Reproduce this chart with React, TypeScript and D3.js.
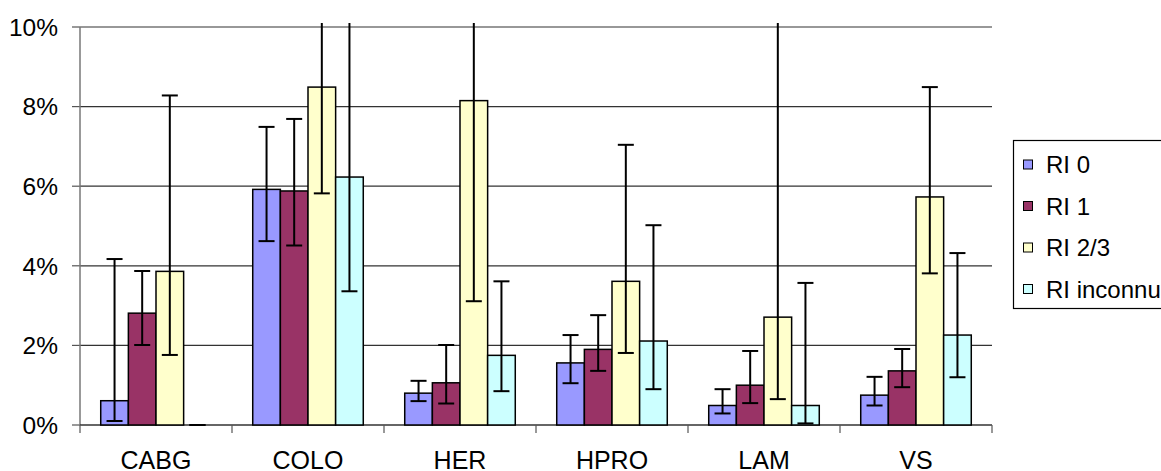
import React from "react";
import * as d3 from "d3";

const categories = ["CABG", "COLO", "HER", "HPRO", "LAM", "VS"];
const seriesNames = ["RI 0", "RI 1", "RI 2/3", "RI inconnu"];
const seriesColors = ["#9999FF", "#993366", "#FFFFCC", "#CCFFFF"];

const ri0 = [0.61, 5.92, 0.8, 1.56, 0.49, 0.75];
const ri0Lo = [0.1, 4.62, 0.6, 1.05, 0.29, 0.49];
const ri0Hi = [4.17, 7.49, 1.11, 2.26, 0.9, 1.21];

const ri1 = [2.81, 5.88, 1.06, 1.9, 1.0, 1.36];
const ri1Lo = [2.01, 4.51, 0.54, 1.36, 0.55, 0.95];
const ri1Hi = [3.87, 7.69, 2.01, 2.76, 1.86, 1.91];

const ri23 = [3.86, 8.49, 8.15, 3.61, 2.71, 5.73];
const ri23Lo = [1.76, 5.82, 3.11, 1.81, 0.65, 3.81];
const ri23Hi = [8.28, 12, 12, 7.04, 12, 8.49];

const riU = [0, 6.23, 1.75, 2.11, 0.49, 2.26];
const riULo = [0, 3.36, 0.85, 0.9, 0.04, 1.2];
const riUHi = [0, 12, 3.61, 5.02, 3.57, 4.32];

const yTicks = [0, 2, 4, 6, 8, 10];

const values = [ri0, ri1, ri23, riU];
const lows = [ri0Lo, ri1Lo, ri23Lo, riULo];
const highs = [ri0Hi, ri1Hi, ri23Hi, riUHi];

const W = 1161;
const H = 471;
const left = 80;
const right = 992;
const font = "Arial, 'Liberation Sans', sans-serif";

export default function App() {
  const x = d3.scaleBand<string>().domain(categories).range([left, right]).padding(0);
  const y = d3.scaleLinear().domain([0, 10]).range([425, 27]);
  const bw = x.bandwidth() / 5.5;
  const xs = d3
    .scaleBand<string>()
    .domain(seriesNames)
    .range([0.75 * bw, 4.75 * bw])
    .padding(0);
  const cap = 8;
  const ticksX = [...categories.map((c) => x(c) as number), right];

  return (
    <svg
      width={W}
      height={H}
      style={{ position: "absolute", left: 0, top: 0, background: "#fff" }}
      fontFamily={font}
    >
      <defs>
        <clipPath id="errclip">
          <rect x={0} y={23} width={W} height={H} />
        </clipPath>
      </defs>
      {/* gridlines */}
      {yTicks.map((t) => (
        <g key={t}>
          {t > 0 && (
            <line x1={left} x2={right} y1={y(t)} y2={y(t)} stroke="#333" strokeWidth={1.2} />
          )}
          <line x1={left - 8} x2={left} y1={y(t)} y2={y(t)} stroke="#555" strokeWidth={1.2} />
          <text
            x={58}
            y={y(t)}
            dy="0.36em"
            textAnchor="end"
            fontSize={24.5}
            fill="#000"
          >
            {t}%
          </text>
        </g>
      ))}
      {/* axes */}
      <line x1={left} x2={left} y1={y(10)} y2={y(0)} stroke="#777" strokeWidth={1.5} />
      <line x1={left} x2={right} y1={y(0)} y2={y(0)} stroke="#333" strokeWidth={1.5} />
      {ticksX.map((tx, i) => (
        <line key={i} x1={tx} x2={tx} y1={y(0)} y2={y(0) + 8} stroke="#555" strokeWidth={1.2} />
      ))}
      {categories.map((c) => (
        <text
          key={c}
          x={(x(c) as number) + x.bandwidth() / 2}
          y={469}
          textAnchor="middle"
          fontSize={25}
          fill="#000"
        >
          {c}
        </text>
      ))}
      {/* bars */}
      {seriesNames.map((s, si) =>
        categories.map((c, ci) => {
          const v = values[si][ci];
          const bx = (x(c) as number) + (xs(s) as number);
          return (
            <rect
              key={s + c}
              x={bx}
              y={y(v)}
              width={xs.bandwidth()}
              height={y(0) - y(v)}
              fill={seriesColors[si]}
              stroke="#000"
              strokeWidth={1.5}
            />
          );
        })
      )}
      {/* error bars */}
      <g clipPath="url(#errclip)" stroke="#000" strokeWidth={2}>
        {seriesNames.map((s, si) =>
          categories.map((c, ci) => {
            const cx = (x(c) as number) + (xs(s) as number) + xs.bandwidth() / 2;
            const lo = y(lows[si][ci]);
            const hi = y(highs[si][ci]);
            return (
              <g key={s + c}>
                <line x1={cx} x2={cx} y1={lo} y2={hi} />
                <line x1={cx - cap} x2={cx + cap} y1={lo} y2={lo} />
                <line x1={cx - cap} x2={cx + cap} y1={hi} y2={hi} />
              </g>
            );
          })
        )}
      </g>
      {/* legend */}
      <rect x={1013.5} y={140.5} width={170} height={168} fill="#fff" stroke="#000" strokeWidth={1.2} />
      {seriesNames.map((s, i) => {
        const by = 173 + i * 41.5;
        return (
          <g key={s}>
            <rect
              x={1023.5}
              y={by - 13}
              width={9}
              height={9}
              fill={seriesColors[i]}
              stroke="#000"
              strokeWidth={1}
            />
            <text x={1046} y={by} fontSize={24} fill="#000">
              {s}
            </text>
          </g>
        );
      })}
    </svg>
  );
}
